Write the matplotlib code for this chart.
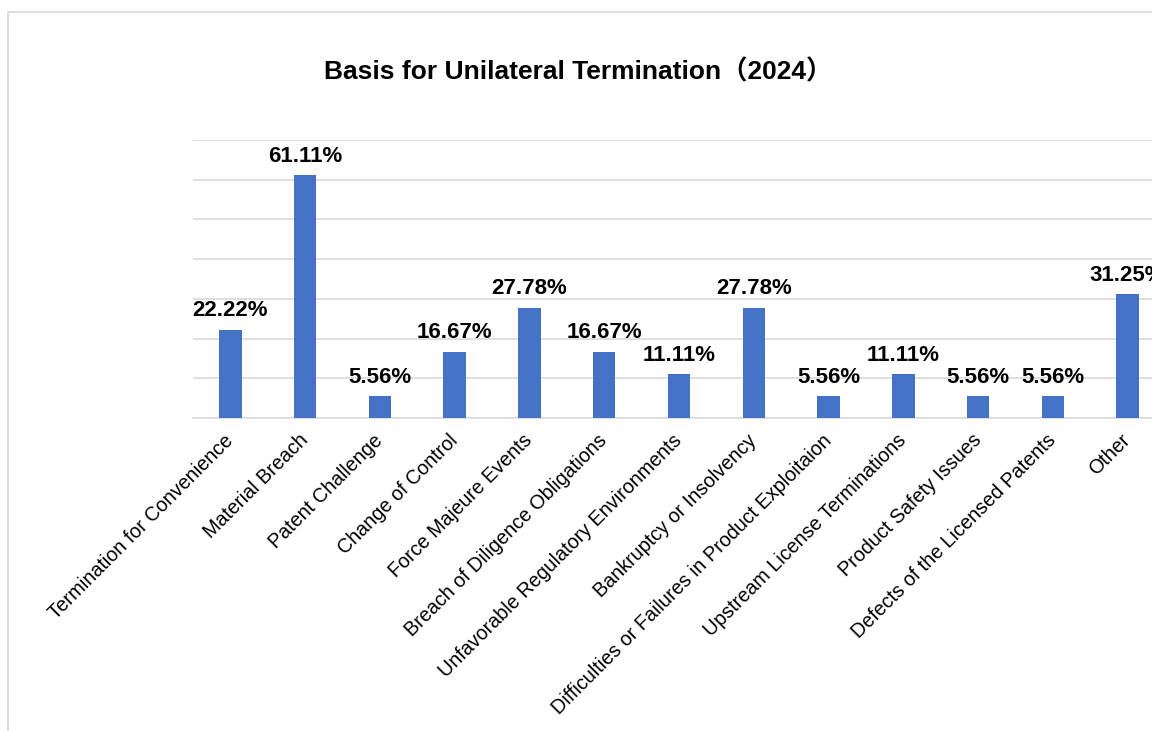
import matplotlib.pyplot as plt
import matplotlib.patches as mpatches
import numpy as np

plt.rcParams['font.family'] = ['Liberation Sans', 'Noto Sans CJK SC', 'DejaVu Sans']

categories = ['Termination for Convenience', 'Material Breach', 'Patent Challenge',
              'Change of Control', 'Force Majeure Events', 'Breach of Diligence Obligations',
              'Unfavorable Regulatory Environments', 'Bankruptcy or Insolvency',
              'Difficulties or Failures in Product Exploitaion', 'Upstream License Terminations',
              'Product Safety Issues', 'Defects of the Licensed Patents', 'Other']
values = [22.22, 61.11, 5.56, 16.67, 27.78, 16.67, 11.11, 27.78, 5.56, 11.11, 5.56, 5.56, 31.25]

fig = plt.figure(figsize=(11.52, 7.31), dpi=100)
ax = fig.add_axes([0.1675, 0.4282, 0.8438, 0.3803])

# outer chart border (cut off at right/bottom)
fig.patches.append(mpatches.Rectangle((7.5 / 1152, -0.1), 1.2, 1 - 12 / 731 + 0.1,
                                      transform=fig.transFigure, fill=False,
                                      edgecolor='#D9D9D9', linewidth=1.2))

x = np.arange(len(categories))
bars = ax.bar(x, values, width=0.3, color='#4472C4', zorder=3)
ax.bar_label(bars, labels=['%.2f%%' % v for v in values], padding=6,
             fontsize=16, fontweight='bold', color='black')

ax.set_xlim(-0.5, len(categories) - 0.5)
ax.set_ylim(0, 70)
ax.set_yticks(np.arange(0, 71, 10))
ax.yaxis.grid(True, color='#D9D9D9', linewidth=1.2, zorder=0)
ax.tick_params(axis='y', left=False, labelleft=False)
ax.tick_params(axis='x', length=0, pad=14)
for s in ['top', 'right', 'left']:
    ax.spines[s].set_visible(False)
ax.spines['bottom'].set_color('#D9D9D9')
ax.spines['bottom'].set_linewidth(1.2)

ax.set_xticks(x)
ax.set_xticklabels(categories, rotation=45, ha='right', va='center',
                   rotation_mode='anchor', fontsize=14.2)

fig.text(0.502, 0.9015, 'Basis for Unilateral Termination（2024）', ha='center', va='center',
         fontsize=19, fontweight='bold')

fig.savefig('out.png', dpi=100)
